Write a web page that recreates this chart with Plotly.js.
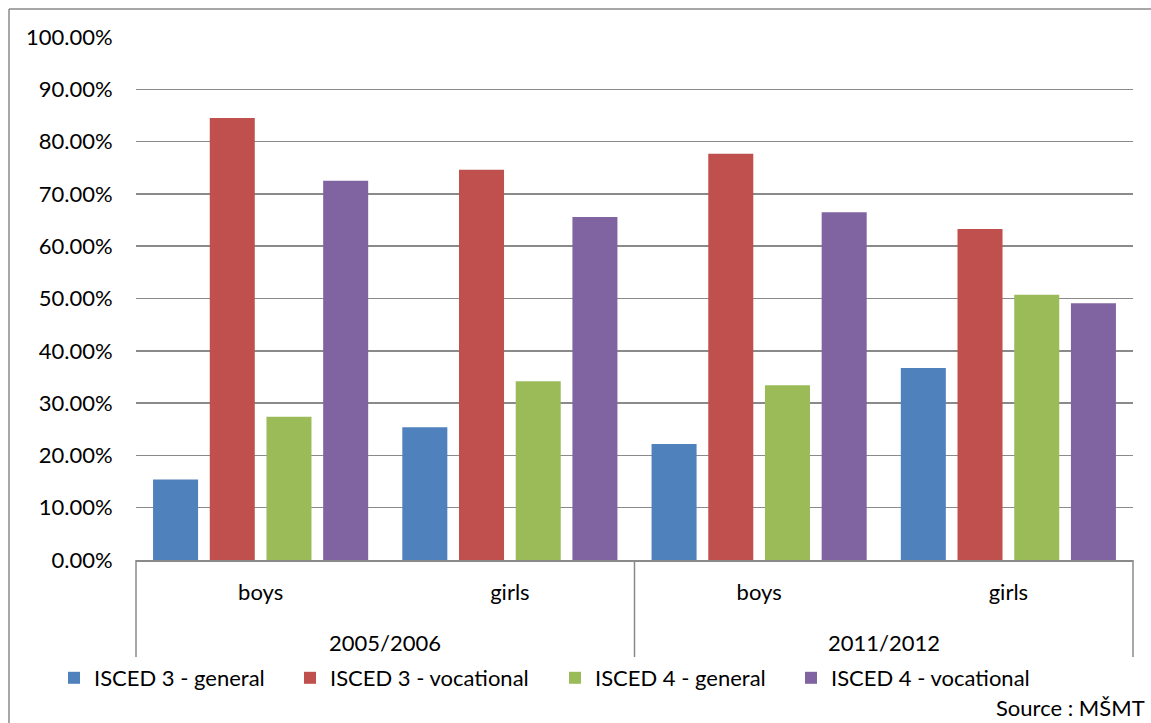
<!DOCTYPE html>
<html>
<head>
<meta charset="utf-8">
<script src="https://cdn.plot.ly/plotly-3.0.1.min.js"></script>
<style>
  html, body { margin: 0; padding: 0; background: #fff; }
  #chart { width: 1151px; height: 723px; }
</style>
</head>
<body>
<div id="chart"></div>
<script>
// School years (outer group) and gender (inner group)
const years = ["2005/2006", "2005/2006", "2011/2012", "2011/2012"];
const genders = ["boys", "girls", "boys", "girls"];

// Share of pupils by programme type, in percent
const isced3General    = [15.4, 25.4, 22.2, 36.7];
const isced3Vocational = [84.5, 74.6, 77.7, 63.3];
const isced4General    = [27.4, 34.2, 33.4, 50.7];
const isced4Vocational = [72.5, 65.6, 66.5, 49.1];

const seriesNames = ["ISCED 3 - general", "ISCED 3 - vocational", "ISCED 4 - general", "ISCED 4 - vocational"];
const seriesColors = ["#4F81BD", "#C0504D", "#9BBB59", "#8064A2"];
const seriesValues = [isced3General, isced3Vocational, isced4General, isced4Vocational];

const yTicks = [0, 10, 20, 30, 40, 50, 60, 70, 80, 90, 100];

const FONT = "Lato, 'Open Sans', sans-serif";
const TEXT = { family: FONT, size: 22, color: "#000000" };
const AXIS_GREY = "#8a8a8a";

// plot area in pixels, used to place paper-referenced extras
const W = 1151, H = 723;
const M = { l: 136, r: 18, t: 37, b: 163 };
const PW = W - M.l - M.r, PH = H - M.t - M.b;
const px = x => (x - M.l) / PW;
const py = y => (H - M.b - y) / PH;

// one category per (year, gender) pair; ticks show the gender only
const cats = years.map((y, i) => y + " " + genders[i]);

const legendIds = ["legend", "legend2", "legend3", "legend4"];
const legendLeft = [54, 290, 555, 791];

const traces = seriesValues.map((vals, i) => ({
  type: "bar",
  name: seriesNames[i],
  x: cats,
  y: vals,
  marker: { color: seriesColors[i] },
  legend: legendIds[i],
  hoverinfo: "skip"
}));

const layout = {
  width: W,
  height: H,
  margin: M,
  paper_bgcolor: "#ffffff",
  plot_bgcolor: "#ffffff",
  font: TEXT,
  barmode: "group",
  bargap: 0.09,
  bargroupgap: 0.206,
  showlegend: true,
  xaxis: {
    type: "category",
    categoryorder: "array",
    categoryarray: cats,
    tickvals: cats,
    ticktext: genders,
    showline: true,
    linecolor: AXIS_GREY,
    linewidth: 1.5,
    showgrid: false,
    ticks: "",
    ticklabelstandoff: 12,
    tickfont: TEXT,
    fixedrange: true
  },
  yaxis: {
    range: [0, 100],
    tickvals: yTicks,
    ticktext: yTicks.map(v => v.toFixed(2) + "%"),
    showgrid: true,
    gridcolor: AXIS_GREY,
    gridwidth: 1.5,
    zeroline: false,
    showline: false,
    ticks: "outside",
    ticklen: 18,
    tickcolor: "rgba(0,0,0,0)",
    tickfont: TEXT,
    fixedrange: true
  },
  shapes: [
    // chart frame (top and left edges)
    { type: "line", xref: "paper", yref: "paper",
      x0: px(9), x1: px(1160), y0: py(9), y1: py(9),
      line: { color: AXIS_GREY, width: 1.5 } },
    { type: "line", xref: "paper", yref: "paper",
      x0: px(9), x1: px(9), y0: py(9), y1: py(730),
      line: { color: AXIS_GREY, width: 1.5 } }
  ],
  annotations: [
    { text: "Source : MŠMT", xref: "paper", yref: "paper",
      x: px(1147), y: py(707), xanchor: "right", yanchor: "middle",
      showarrow: false, font: TEXT }
  ]
};

// one legend per series so each entry sits at its own position
legendIds.forEach((id, i) => {
  layout[id] = {
    orientation: "h",
    x: px(legendLeft[i]),
    xanchor: "left",
    y: py(678),
    yanchor: "middle",
    font: TEXT,
    itemwidth: 30,
    bgcolor: "rgba(0,0,0,0)"
  };
});

// year group labels and the dividers between groups, derived from the categories
const n = cats.length;
const groupStarts = [];
years.forEach((y, i) => { if (i === 0 || years[i - 1] !== y) groupStarts.push(i); });
groupStarts.forEach((s, g) => {
  const e = g + 1 < groupStarts.length ? groupStarts[g + 1] : n;
  layout.annotations.push({
    text: years[s], xref: "paper", yref: "paper",
    x: (s + e) / 2 / n, y: py(642), xanchor: "center", yanchor: "middle",
    showarrow: false, font: TEXT
  });
});
groupStarts.concat([n]).forEach(b => {
  layout.shapes.push({
    type: "line", xref: "paper", yref: "paper",
    x0: b / n, x1: b / n, y0: 0, y1: py(657),
    line: { color: AXIS_GREY, width: 1.5 }
  });
});

Plotly.newPlot("chart", traces, layout, { displayModeBar: false, staticPlot: true });
</script>
</body>
</html>
